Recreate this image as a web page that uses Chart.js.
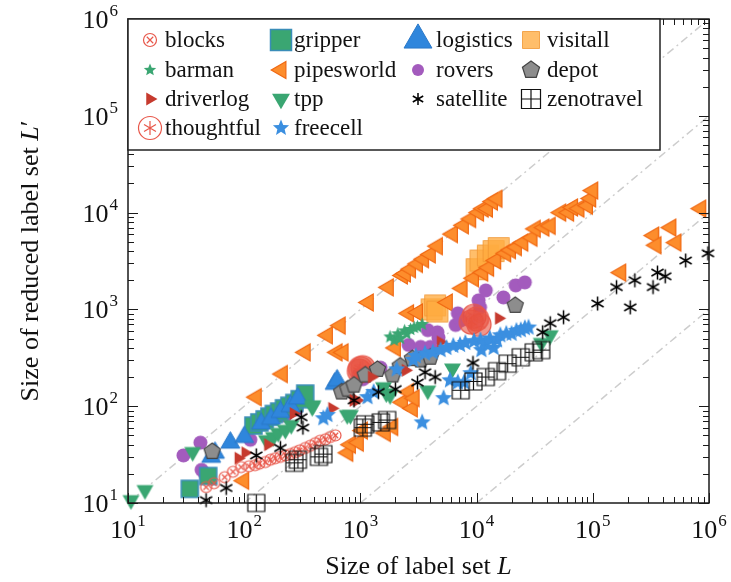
<!DOCTYPE html>
<html>
<head>
<meta charset="utf-8">
<script src="https://cdn.jsdelivr.net/npm/chart.js@4.4.1/dist/chart.umd.min.js"></script>
<style>
  html, body { margin: 0; padding: 0; background: #fff; }
  #wrap { width: 731px; height: 582px; }
</style>
</head>
<body>
<div id="wrap"><canvas id="myChart" width="731" height="582"></canvas></div>
<script>
// Axis ticks are powers of ten, labels drawn as 10^exp
const tickExps = [1, 2, 3, 4, 5, 6];
// Reference lines L' = L / ratio
const diagRatios = [1, 10, 100, 1000];

// Data (L, L')
const blocksX = [47, 55, 68, 80, 94, 110, 124, 135, 152, 168, 185, 205, 226, 250, 275, 300, 335, 370, 409, 450, 500, 550, 610];
const blocksY = [14.6, 16, 18.5, 21, 23.5, 24, 24.6, 25.5, 26.5, 28, 29, 30, 31, 32, 33.5, 35, 37, 39, 41.5, 44, 45.5, 48, 50];

const gripperX = [34, 49, 120, 135, 150, 165, 180, 200, 220, 245, 270, 300, 335];
const gripperY = [14, 19, 63, 68, 73, 78, 83, 88, 95, 101, 108, 118, 135];

const logisticsX = [52, 56, 76, 100, 140, 170, 205, 250, 290, 600, 630];
const logisticsY = [30, 33, 42, 48, 66, 74, 87, 100, 120, 170, 185];

const visitallX = [4100, 4400, 4600, 10000, 10800, 12500, 14000, 15500];
const visitallY = [1000, 1100, 950, 2600, 3200, 3600, 4000, 4300];

const barmanX = [1800, 1950, 2100, 2200, 2400, 2500, 2700, 2900, 3100, 3400];
const barmanY = [520, 480, 560, 500, 600, 560, 620, 650, 660, 700];

const pipesworldX = [
  127, 213, 335, 520, 670, 1170, 1740, 2300, 2440, 2700, 3100, 3500, 4000, 4600, 6200, 7700, 8900, 10400, 11400, 12400, 13700, 15000,
  630, 710, 2000, 2600, 3100, 5600, 7500, 9400, 11300, 12700, 14600, 17800, 19600, 22000, 25000, 30000, 32000, 38000, 43000, 53000, 62000, 67000, 76000, 90000, 96000, 100000,
  99, 780, 820, 960, 1040, 1640, 1900, 2300, 2600, 2800, 2900,
  174000, 335000, 350000, 470000, 520000, 850000
];
const pipesworldY = [
  124, 215, 360, 540, 680, 1180, 1690, 2240, 2350, 2600, 2950, 3300, 3700, 4500, 6000, 7400, 8600, 10000, 11000, 11000, 13000, 13900,
  360, 360, 400, 910, 930, 1180, 1650, 2100, 2400, 2700, 3200, 3800, 4100, 4400, 4900, 5500, 6800, 7000, 7300, 10000, 10000, 11300, 11000, 11800, 14000, 16900,
  17, 33, 40, 42, 56, 53, 61, 110, 140, 95, 121,
  2400, 5800, 4600, 7000, 4900, 11000
];

const roversX = [30, 42, 43, 46, 113, 226, 281, 960, 1050, 1490, 2600, 3300, 4000, 3800, 4600, 4700, 6600, 6900, 7300, 10400, 10700, 12000, 17000, 21700, 26000];
const roversY = [31, 42, 22, 20, 45, 80, 93, 210, 190, 250, 430, 410, 410, 610, 580, 510, 690, 910, 770, 1240, 1050, 1570, 1330, 1770, 1900];

const depotX = [53, 690, 780, 880, 1100, 1400, 1900, 2200, 2800, 3300, 4000, 21500];
const depotY = [34, 140, 150, 165, 210, 240, 210, 260, 310, 300, 320, 1100];

const driverlogX = [89, 102, 160, 265, 570, 870, 940, 1250, 2450, 4900, 15500];
const driverlogY = [29, 33, 40, 84, 95, 115, 115, 200, 235, 460, 810];

const tppX = [10.6, 14, 36, 155, 178, 196, 226, 254, 385, 390, 770, 820, 1580, 1670, 1800, 3800, 6200, 36000, 43000];
const tppY = [10.7, 13.6, 33.6, 44.6, 48, 53, 57, 64, 98, 102, 81, 81, 157, 136, 130, 145, 245, 450, 540];

const satelliteX = [47, 70, 127, 205, 310, 320, 880, 1430, 2000, 3100, 3600, 4400, 9300, 37000, 43000, 56000, 110000, 160000, 210000, 230000, 330000, 360000, 420000, 630000, 980000];
const satelliteY = [10.7, 14.3, 31, 37, 77, 60, 115, 140, 150, 175, 224, 200, 280, 580, 720, 830, 1150, 1700, 1050, 2000, 1700, 2400, 2200, 3200, 3800];

const zenotravelX = [127, 270, 290, 440, 480, 1050, 1100, 1500, 1700, 7300, 9400, 12000, 15000, 18500, 24000, 31000, 36000];
const zenotravelY = [10, 26, 28, 30, 32, 60, 65, 68, 72, 146, 180, 200, 230, 275, 320, 360, 380];

const thoughtfulX = [980, 1000, 1050, 9000, 9500, 10000, 10500];
const thoughtfulY = [230, 245, 250, 740, 850, 800, 700];

const freecellX = [480, 520, 1150, 1300, 2050, 2850, 3000, 3400, 3600, 4200, 4900, 5200, 5500, 5900, 6300, 6900, 7200, 7800, 8000, 8900, 9500,
  10800, 11000, 12000, 13000, 14000, 15000, 16000, 18000, 20000, 22000, 24000, 26000, 28000];
const freecellY = [75, 81, 124, 140, 240, 300, 330, 68, 350, 360, 380, 121, 400, 185, 420, 176, 430, 176, 450, 219, 470,
  480, 380, 440, 500, 400, 480, 540, 560, 560, 600, 610, 640, 650];

// legend order, row by row (4 columns)
const seriesNames = ['blocks', 'gripper', 'logistics', 'visitall', 'barman', 'pipesworld', 'rovers', 'depot',
  'driverlog', 'tpp', 'satellite', 'zenotravel', 'thoughtful', 'freecell'];
const seriesData = {
  blocks: [blocksX, blocksY], gripper: [gripperX, gripperY], logistics: [logisticsX, logisticsY],
  visitall: [visitallX, visitallY], barman: [barmanX, barmanY], pipesworld: [pipesworldX, pipesworldY],
  rovers: [roversX, roversY], depot: [depotX, depotY], driverlog: [driverlogX, driverlogY], tpp: [tppX, tppY],
  satellite: [satelliteX, satelliteY], zenotravel: [zenotravelX, zenotravelY],
  thoughtful: [thoughtfulX, thoughtfulY], freecell: [freecellX, freecellY]
};

// marker looks; z: lower is drawn on top
const styles = {
  blocks:     { kind: 'circleX',   size: 11, leg: 13, fill: null, stroke: '#e8574a', lw: 1.2, z: 4 },
  gripper:    { kind: 'rect',      size: 17, leg: 21, fill: '#3aa672', stroke: '#3a8db8', lw: 1.5, z: 9 },
  logistics:  { kind: 'triUp',     size: 19, leg: 28, fill: '#2f86dc', stroke: '#2a78c8', lw: 1, z: 8 },
  visitall:   { kind: 'rect',      size: 21, leg: 17, fill: 'rgba(255,172,64,0.78)', stroke: 'rgba(240,150,50,0.8)', lw: 1, z: 14 },
  barman:     { kind: 'star5',     size: 14, leg: 13, fill: '#3aa672', stroke: null, lw: 0, z: 10 },
  pipesworld: { kind: 'triLeft',   size: 17, leg: 17, fill: '#fd8d2c', stroke: '#f06812', lw: 1.2, z: 13 },
  rovers:     { kind: 'circle',    size: 14, leg: 12, fill: '#a35bbd', stroke: null, lw: 0, z: 12 },
  depot:      { kind: 'pentagon',  size: 17, leg: 18, fill: '#8d8d8d', stroke: '#444', lw: 1.2, z: 7 },
  driverlog:  { kind: 'triRight',  size: 13, leg: 13, fill: '#c63a2e', stroke: null, lw: 0, z: 5 },
  tpp:        { kind: 'triDown',   size: 17, leg: 18, fill: '#3aa672', stroke: null, lw: 0, z: 6 },
  satellite:  { kind: 'asterisk',  size: 14, leg: 12, fill: null, stroke: '#000', lw: 1.5, z: 1 },
  zenotravel: { kind: 'boxPlus',   size: 17, leg: 19, fill: null, stroke: '#111', lw: 1.2, z: 2 },
  thoughtful: { kind: 'circleAst', size: 24, leg: 23, fill: 'rgba(232,80,62,0.6)', stroke: '#e8574a', lw: 1.2, z: 11 },
  freecell:   { kind: 'star5',     size: 18, leg: 17, fill: '#3b8fe0', stroke: null, lw: 0, z: 3 }
};

function drawMarker(ctx, kind, cx, cy, s, fill, stroke, lw) {
  const r = s / 2;
  ctx.save();
  ctx.lineWidth = lw;
  ctx.lineJoin = 'miter';
  ctx.beginPath();
  const poly = pts => { pts.forEach(([px, py], i) => i ? ctx.lineTo(px, py) : ctx.moveTo(px, py)); ctx.closePath(); };
  const tri = rot => {
    const R = r * 1.15, pts = [];
    for (let i = 0; i < 3; i++) {
      const a = (rot - 90 + i * 120) * Math.PI / 180;
      pts.push([cx + R * Math.cos(a), cy + R * Math.sin(a)]);
    }
    poly(pts);
  };
  switch (kind) {
    case 'circle': case 'circleX': case 'circleAst':
      ctx.arc(cx, cy, r, 0, Math.PI * 2); break;
    case 'rect': case 'boxPlus':
      ctx.rect(cx - r, cy - r, s, s); break;
    case 'triUp': tri(0); break;
    case 'triRight': tri(90); break;
    case 'triDown': tri(180); break;
    case 'triLeft': tri(270); break;
    case 'star5': {
      const pts = [];
      for (let i = 0; i < 10; i++) {
        const a = -Math.PI / 2 + i * Math.PI / 5, rr = i % 2 ? r * 0.45 : r;
        pts.push([cx + rr * Math.cos(a), cy + rr * Math.sin(a)]);
      }
      poly(pts); break;
    }
    case 'pentagon': {
      const pts = [];
      for (let i = 0; i < 5; i++) {
        const a = -Math.PI / 2 + i * 2 * Math.PI / 5;
        pts.push([cx + r * Math.cos(a), cy + r * Math.sin(a)]);
      }
      poly(pts); break;
    }
  }
  if (fill) { ctx.fillStyle = fill; ctx.fill(); }
  if (stroke && lw > 0 && kind !== 'asterisk') { ctx.strokeStyle = stroke; ctx.stroke(); }
  const spokes = (angles, len) => {
    ctx.beginPath();
    angles.forEach(d => {
      const a = d * Math.PI / 180;
      ctx.moveTo(cx - len * Math.cos(a), cy - len * Math.sin(a));
      ctx.lineTo(cx + len * Math.cos(a), cy + len * Math.sin(a));
    });
    ctx.strokeStyle = stroke; ctx.stroke();
  };
  if (kind === 'circleX') spokes([45, 135], r * 0.7);
  if (kind === 'circleAst') spokes([90, 30, 150], r * 0.6);
  if (kind === 'boxPlus') spokes([0, 90], r);
  if (kind === 'asterisk') spokes([90, 30, 150], r);
  ctx.restore();
}

function markerCanvas(st, s) {
  const pad = Math.ceil(st.lw + 2);
  const dim = Math.ceil(s * 1.3) + pad * 2;
  const c = document.createElement('canvas');
  c.width = dim; c.height = dim;
  drawMarker(c.getContext('2d'), st.kind, dim / 2, dim / 2, s, st.fill, st.stroke, st.lw);
  return c;
}

const datasets = seriesNames.map(name => {
  const [xs, ys] = seriesData[name];
  const st = styles[name];
  return {
    label: name,
    data: xs.map((v, i) => ({ x: v, y: ys[i] })),
    pointStyle: markerCanvas(st, st.size),
    order: st.z,
    clip: false
  };
});

diagRatios.forEach(r => {
  datasets.push({
    type: 'line',
    label: 'ratio ' + r,
    data: [{ x: 10 * r, y: 10 }, { x: 1e6, y: 1e6 / r }],
    showLine: true,
    borderColor: '#cdcdcd',
    borderWidth: 1.5,
    borderDash: [8, 4, 2, 4],
    pointRadius: 0,
    order: 50
  });
});

const FONT = '"Liberation Serif", "Times New Roman", serif';

function drawPow(ctx, exp, x, y, align) {
  ctx.font = '26px ' + FONT;
  const wb = ctx.measureText('10').width;
  ctx.font = '17px ' + FONT;
  const we = ctx.measureText(String(exp)).width;
  const total = wb + we + 1;
  const left = align === 'center' ? x - total / 2 : x - total;
  ctx.textAlign = 'left';
  ctx.textBaseline = 'alphabetic';
  ctx.font = '26px ' + FONT;
  ctx.fillText('10', left, y);
  ctx.font = '17px ' + FONT;
  ctx.fillText(String(exp), left + wb + 1, y - 12);
}

// frame, inward ticks, tick labels, axis titles and the legend box
const decorations = {
  id: 'decorations',
  afterDatasetsDraw(chart) {
    const { ctx, chartArea: a, scales: { x, y } } = chart;
    ctx.save();
    ctx.strokeStyle = '#1a1a1a';
    ctx.lineWidth = 1;
    ctx.beginPath();
    tickExps.forEach(e => {
      for (let m = 1; m <= 9; m++) {
        const v = m * Math.pow(10, e);
        if (v > 1e6) break;
        const len = m === 1 ? 10 : 6;
        const px = Math.round(x.getPixelForValue(v)) + 0.5;
        const py = Math.round(y.getPixelForValue(v)) + 0.5;
        ctx.moveTo(px, a.bottom); ctx.lineTo(px, a.bottom - len);
        ctx.moveTo(px, a.top); ctx.lineTo(px, a.top + len);
        ctx.moveTo(a.left, py); ctx.lineTo(a.left + len, py);
        ctx.moveTo(a.right, py); ctx.lineTo(a.right - len, py);
      }
    });
    ctx.stroke();
    ctx.lineWidth = 1.5;
    ctx.strokeRect(a.left, a.top, a.right - a.left, a.bottom - a.top);

    ctx.fillStyle = '#111';
    tickExps.forEach(e => {
      const v = Math.pow(10, e);
      drawPow(ctx, e, x.getPixelForValue(v), a.bottom + 35, 'center');
      drawPow(ctx, e, a.left - 10, y.getPixelForValue(v) + 9, 'right');
    });

    // axis titles
    const mixed = (parts, cx, cy, rot) => {
      ctx.save();
      ctx.translate(cx, cy);
      ctx.rotate(rot);
      let w = 0;
      parts.forEach(([t, it]) => { ctx.font = (it ? 'italic ' : '') + '26px ' + FONT; w += ctx.measureText(t).width; });
      let px = -w / 2;
      ctx.textAlign = 'left';
      ctx.textBaseline = 'alphabetic';
      parts.forEach(([t, it]) => {
        ctx.font = (it ? 'italic ' : '') + '26px ' + FONT;
        ctx.fillText(t, px, 0);
        px += ctx.measureText(t).width;
      });
      ctx.restore();
    };
    mixed([['Size of label set ', false], ['L', true]], (a.left + a.right) / 2, 574, 0);
    mixed([['Size of reduced label set ', false], ['L', true], ['\u2032', false]], 38, (a.top + a.bottom) / 2, -Math.PI / 2);

    // legend
    const box = { l: a.left, t: a.top, r: 660, b: 150 };
    ctx.fillStyle = '#fff';
    ctx.fillRect(box.l, box.t, box.r - box.l, box.b - box.t);
    ctx.strokeStyle = '#222';
    ctx.lineWidth = 1.5;
    ctx.strokeRect(box.l, box.t, box.r - box.l, box.b - box.t);
    const markX = [150, 281, 418, 531];
    const textX = [165, 294, 436, 547];
    const rowY = [40, 70, 99, 128];
    seriesNames.forEach((name, i) => {
      const st = styles[name];
      const col = i % 4, row = Math.floor(i / 4);
      const legFill = name === 'thoughtful' ? '#fff' : st.fill;
      drawMarker(ctx, st.kind, markX[col], rowY[row], st.leg, legFill, st.stroke, st.lw);
      ctx.fillStyle = '#111';
      ctx.font = '23px ' + FONT;
      ctx.textAlign = 'left';
      ctx.textBaseline = 'alphabetic';
      ctx.fillText(name, textX[col], rowY[row] + 7);
    });
    ctx.restore();
  }
};

new Chart(document.getElementById('myChart'), {
  type: 'scatter',
  data: { datasets: datasets },
  options: {
    responsive: false,
    animation: false,
    events: [],
    layout: { padding: { left: 128, right: 22, top: 19, bottom: 79 } },
    scales: {
      x: { type: 'logarithmic', min: 10, max: 1e6, display: false },
      y: { type: 'logarithmic', min: 10, max: 1e6, display: false }
    },
    plugins: { legend: { display: false }, tooltip: { enabled: false } }
  },
  plugins: [decorations]
});
</script>
</body>
</html>
